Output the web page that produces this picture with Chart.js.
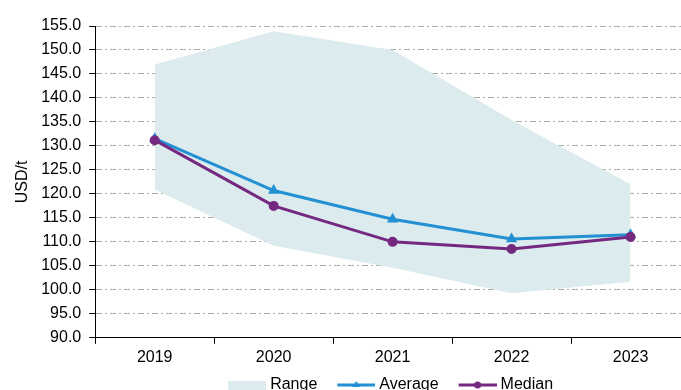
<!DOCTYPE html>
<html>
<head>
<meta charset="utf-8">
<script src="https://cdn.jsdelivr.net/npm/chart.js@4"></script>
<style>
    html, body { margin: 0; padding: 0; background: #fff; overflow: hidden; }
    #wrap { width: 702px; height: 403px; position: relative; }
</style>
</head>
<body>
<div id="wrap"><canvas id="priceChart"></canvas></div>
<script>
// 数据
const years = ['2019', '2020', '2021', '2022', '2023'];
const rangeLow = [120.9, 109.2, 104.6, 99.3, 101.7];
const rangeHigh = [147.0, 153.9, 150.0, 135.4, 122.0];
const average = [131.5, 120.7, 114.7, 110.6, 111.5];
const median = [131.2, 117.5, 110.0, 108.5, 111.0];

const RANGE_COLOR = '#dcebed';
const AVG_COLOR = '#2290d2';
const MED_COLOR = '#74287f';
const FONT = { family: 'Liberation Sans, Arial, sans-serif', size: 16 };

// 图例图标 (画布比图标宽，留出左侧间距)
function legendIcon(kind, color) {
    const c = document.createElement('canvas');
    c.width = 56;
    c.height = 12;
    const g = c.getContext('2d');
    const x0 = 18, x1 = 56, mid = 37;
    if (kind === 'box') {
        g.fillStyle = color;
        g.fillRect(x0, 2, x1 - x0, 9);
        return c;
    }
    g.strokeStyle = color;
    g.lineWidth = 3;
    g.beginPath();
    g.moveTo(x0, 6);
    g.lineTo(x1, 6);
    g.stroke();
    g.fillStyle = color;
    g.beginPath();
    if (kind === 'triangle') {
        g.moveTo(mid, 2);
        g.lineTo(mid + 4, 8);
        g.lineTo(mid - 4, 8);
        g.closePath();
    } else {
        g.arc(mid, 6, 3.5, 0, Math.PI * 2);
    }
    g.fill();
    return c;
}

const icons = [
    legendIcon('box', RANGE_COLOR),
    legendIcon('triangle', AVG_COLOR),
    legendIcon('circle', MED_COLOR)
];

// 图例与绘图区居中对齐
const legendAlign = {
    id: 'legendAlign',
    afterLayout(chart) {
        const lg = chart.legend;
        if (!lg) return;
        lg.left = chart.chartArea.left - 9;
        lg.right = chart.chartArea.right - 9;
    }
};

new Chart(document.getElementById('priceChart'), {
    type: 'line',
    data: {
        labels: years,
        datasets: [
            {
                label: 'Average',
                data: average,
                borderColor: AVG_COLOR,
                backgroundColor: AVG_COLOR,
                borderWidth: 3,
                pointStyle: 'triangle',
                pointRadius: 3.5,
                tension: 0,
                fill: false,
                order: 1
            },
            {
                label: 'Median',
                data: median,
                borderColor: MED_COLOR,
                backgroundColor: MED_COLOR,
                borderWidth: 3,
                pointStyle: 'circle',
                pointRadius: 3.5,
                tension: 0,
                fill: false,
                order: 0
            },
            {
                label: 'RangeLow',
                data: rangeLow,
                borderWidth: 0,
                pointRadius: 0,
                borderColor: 'rgba(0,0,0,0)',
                fill: false,
                order: 3
            },
            {
                label: 'Range',
                data: rangeHigh,
                borderWidth: 0,
                pointRadius: 0,
                borderColor: 'rgba(0,0,0,0)',
                backgroundColor: RANGE_COLOR,
                fill: '-1',
                order: 2
            }
        ]
    },
    options: {
        responsive: true,
        maintainAspectRatio: false,
        animation: false,
        layout: { padding: { left: 13, right: 12, top: 26, bottom: 0 } },
        plugins: {
            tooltip: { enabled: false },
            legend: {
                position: 'bottom',
                labels: {
                    font: FONT,
                    color: '#000',
                    usePointStyle: true,
                    pointStyleWidth: 48,
                    boxHeight: 12,
                    padding: 6,
                    generateLabels: () => {
                        const names = ['Range', 'Average', 'Median'];
                        return names.map((n, i) => ({
                            text: n,
                            pointStyle: icons[i],
                            fillStyle: 'rgba(0,0,0,0)',
                            strokeStyle: 'rgba(0,0,0,0)',
                            lineWidth: 0,
                            hidden: false,
                            fontColor: '#000'
                        }));
                    }
                }
            }
        },
        scales: {
            x: {
                offset: true,
                grid: {
                    display: true,
                    drawOnChartArea: false,
                    drawTicks: true,
                    tickLength: 6,
                    tickColor: '#000',
                    offset: true
                },
                border: { display: true, color: '#000', width: 1 },
                ticks: { font: FONT, color: '#000', padding: 4 }
            },
            y: {
                min: 90,
                max: 155,
                title: {
                    display: true,
                    text: 'USD/t',
                    font: FONT,
                    color: '#000',
                    padding: { top: 0, bottom: 1 }
                },
                grid: {
                    color: '#ababab',
                    lineWidth: 1,
                    tickLength: 6,
                    tickColor: '#000',
                    tickBorderDash: []
                },
                border: { display: true, color: '#000', width: 1, dash: [6, 3, 2, 3] },
                ticks: {
                    stepSize: 5,
                    font: FONT,
                    color: '#000',
                    padding: 8,
                    callback: (v) => Number(v).toFixed(1)
                }
            }
        }
    },
    plugins: [legendAlign]
});
</script>
</body>
</html>
